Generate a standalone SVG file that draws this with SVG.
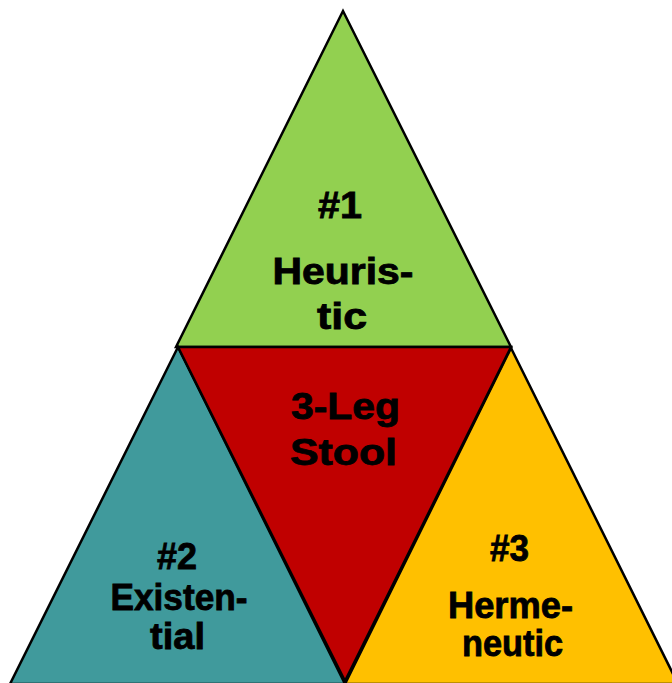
<svg xmlns="http://www.w3.org/2000/svg" width="672" height="683" viewBox="0 0 672 683">
<style>
.tri{stroke:#000;stroke-width:2.5;stroke-linejoin:miter}
.lbl{font-family:"Liberation Sans",Arial,sans-serif;font-weight:bold;font-size:36px;fill:#000;stroke:#000;stroke-width:0.8;text-anchor:middle}
</style>
<rect width="672" height="683" fill="#fff"/>
<g id="node-heuristic">
<polygon class="tri" fill="#92D050" points="343,11 176,347 511,347"/>
<text class="lbl" x="340" y="218" textLength="44" lengthAdjust="spacingAndGlyphs">#1</text>
<text class="lbl" x="343" y="284" textLength="141" lengthAdjust="spacingAndGlyphs">Heuris-</text>
<text class="lbl" x="342" y="329" textLength="50" lengthAdjust="spacingAndGlyphs">tic</text>
</g>
<g id="node-existential">
<polygon class="tri" fill="#409A9C" points="178,347 10,684 345,684"/>
<text class="lbl" x="177" y="569" textLength="40" lengthAdjust="spacingAndGlyphs">#2</text>
<text class="lbl" x="179" y="610" textLength="137" lengthAdjust="spacingAndGlyphs">Existen-</text>
<text class="lbl" x="177.5" y="649" textLength="55" lengthAdjust="spacingAndGlyphs">tial</text>
</g>
<g id="node-hermeneutic">
<polygon class="tri" fill="#FFC000" points="511,348 345,684 678,684"/>
<text class="lbl" x="509.5" y="561" textLength="39" lengthAdjust="spacingAndGlyphs">#3</text>
<text class="lbl" x="510.5" y="618" textLength="125" lengthAdjust="spacingAndGlyphs">Herme-</text>
<text class="lbl" x="512.5" y="656" textLength="101" lengthAdjust="spacingAndGlyphs">neutic</text>
</g>
<g id="node-stool">
<polygon class="tri" fill="#C00000" points="178,347 511,347 345,681"/>
<text class="lbl" x="345.5" y="419" textLength="109" lengthAdjust="spacingAndGlyphs">3-Leg</text>
<text class="lbl" x="343.5" y="465" textLength="107" lengthAdjust="spacingAndGlyphs">Stool</text>
</g>
<g id="connectors"></g>
</svg>
